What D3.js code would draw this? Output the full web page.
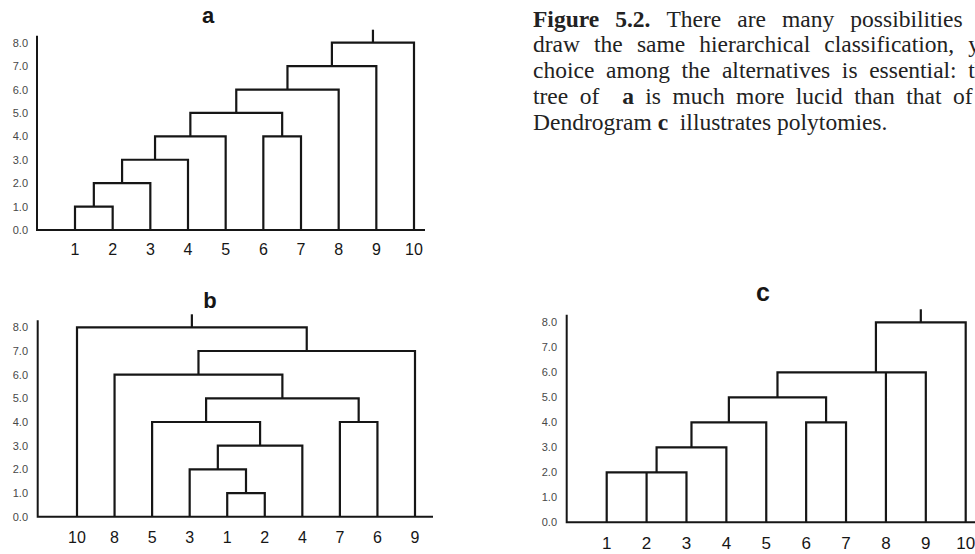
<!DOCTYPE html>
<html>
<head>
<meta charset="utf-8">
<script src="https://cdn.jsdelivr.net/npm/d3@7"></script>
<style>
  html, body { margin: 0; padding: 0; background: #fff; overflow: hidden; }
  svg { display: block; }
</style>
</head>
<body>
<div id="chart"></div>
<script>
(function () {
  // --- data ----------------------------------------------------------------
  const yTicks = [0, 1, 2, 3, 4, 5, 6, 7, 8];

  // leaf order along the x axis
  const leavesA = ["1", "2", "3", "4", "5", "6", "7", "8", "9", "10"];
  const leavesB = ["10", "8", "5", "3", "1", "2", "4", "7", "6", "9"];
  const leavesC = ["1", "2", "3", "4", "5", "6", "7", "8", "9", "10"];

  // merges: [node id, children, height]
  const mergesA = [
    ["A1", ["1", "2"], 1],
    ["A2", ["A1", "3"], 2],
    ["A3", ["A2", "4"], 3],
    ["A4", ["A3", "5"], 4],
    ["A5", ["6", "7"], 4],
    ["A6", ["A4", "A5"], 5],
    ["A7", ["A6", "8"], 6],
    ["A8", ["A7", "9"], 7],
    ["A9", ["A8", "10"], 8]
  ];
  const mergesB = [
    ["B1", ["1", "2"], 1],
    ["B2", ["3", "B1"], 2],
    ["B3", ["B2", "4"], 3],
    ["B4", ["5", "B3"], 4],
    ["B5", ["7", "6"], 4],
    ["B6", ["B4", "B5"], 5],
    ["B7", ["8", "B6"], 6],
    ["B8", ["B7", "9"], 7],
    ["B9", ["10", "B8"], 8]
  ];
  // polytomies in c
  const mergesC = [
    ["C1", ["1", "2", "3"], 2],
    ["C2", ["C1", "4"], 3],
    ["C3", ["C2", "5"], 4],
    ["C4", ["6", "7"], 4],
    ["C5", ["C3", "C4"], 5],
    ["C6", ["C5", "8", "9"], 6],
    ["C7", ["C6", "10"], 8]
  ];

  const captionLines = [
    [{ t: "Figure", b: true }, { t: "5.2.", b: true }, { t: "There" }, { t: "are" }, { t: "many" }, { t: "possibilities" }, { t: "to" }],
    [{ t: "draw" }, { t: "the" }, { t: "same" }, { t: "hierarchical" }, { t: "classification," }, { t: "yet" }],
    [{ t: "choice" }, { t: "among" }, { t: "the" }, { t: "alternatives" }, { t: "is" }, { t: "essential:" }, { t: "the" }],
    [{ t: "tree" }, { t: "of" }, { t: "a", b: true, gap: 2 }, { t: "is" }, { t: "much" }, { t: "more" }, { t: "lucid" }, { t: "than" }, { t: "that" }, { t: "of" }, { t: "b", b: true }],
    [{ t: "Dendrogram" }, { t: "c", b: true }, { t: "illustrates", gap: 2 }, { t: "polytomies." }]
  ];
  // -------------------------------------------------------------------------

  const W = 975, H = 554;
  const sans = "'Liberation Sans', Arial, Helvetica, sans-serif";
  const serif = "'Liberation Serif', 'Times New Roman', serif";
  const ink = "#161616";

  const svg = d3.select("#chart").append("svg")
    .attr("width", W)
    .attr("height", H);

  const panels = [
    { title: "a", leaves: leavesA, merges: mergesA, axisX: 37, xRange: [75, 414], yRange: [230, 42.7],
      baseEnd: 425, titleX: 208, titleY: 23, titleSize: 22, labelY: 255, labelSize: 16, yLabelX: 28 },
    { title: "b", leaves: leavesB, merges: mergesB, axisX: 37.7, xRange: [77, 415], yRange: [516.7, 327.3],
      baseEnd: 433, titleX: 210, titleY: 308, titleSize: 22, labelY: 543, labelSize: 16, yLabelX: 28 },
    { title: "c", leaves: leavesC, merges: mergesC, axisX: 566.7, xRange: [606.7, 965.7], yRange: [522.3, 322.3],
      baseEnd: 990, titleX: 763, titleY: 301, titleSize: 25, labelY: 549, labelSize: 17, yLabelX: 557 }
  ];

  panels.forEach(drawPanel);

  function drawPanel(cfg) {
    const x = d3.scalePoint().domain(cfg.leaves).range(cfg.xRange);
    const y = d3.scaleLinear().domain([0, 8]).range(cfg.yRange);
    const g = svg.append("g");

    // node positions: leaves from the point scale, joins in between children
    const pos = new Map();
    cfg.leaves.forEach(l => pos.set(l, { x: x(l), h: 0 }));
    cfg.merges.forEach(([id, kids, h]) => {
      const xs = kids.map(k => pos.get(k).x).sort((a, b) => a - b);
      let nx;
      if (xs.length === 2) {
        nx = (xs[0] + xs[1]) / 2;
      } else {
        // polytomy: stem sits just beside the middle branch
        const med = xs[Math.floor(xs.length / 2)];
        nx = med + (d3.mean(xs) < med - 0.5 ? -10 : 10);
      }
      pos.set(id, { x: nx, h: h });
    });

    // y axis labels
    g.append("g")
      .attr("transform", `translate(${cfg.yLabelX},0)`)
      .call(d3.axisLeft(y).tickValues(yTicks).tickSize(0).tickPadding(0).tickFormat(d3.format(".1f")))
      .call(s => s.select(".domain").remove())
      .selectAll("text")
        .attr("font-family", sans)
        .attr("font-size", 11)
        .attr("fill", "#484848");

    // x leaf labels
    g.append("g")
      .selectAll("text")
      .data(cfg.leaves)
      .join("text")
        .attr("x", d => x(d))
        .attr("y", cfg.labelY)
        .attr("text-anchor", "middle")
        .attr("font-family", sans)
        .attr("font-size", cfg.labelSize)
        .attr("fill", ink)
        .text(d => d);

    // axis frame
    g.append("path")
      .attr("d", `M${cfg.axisX},${y(8.3)}V${y(0)}H${cfg.baseEnd}`)
      .attr("fill", "none")
      .attr("stroke", ink)
      .attr("stroke-width", 2);

    // branches
    const branches = g.append("g")
      .attr("fill", "none")
      .attr("stroke", ink)
      .attr("stroke-width", 2.2)
      .attr("stroke-linejoin", "miter");

    branches.selectAll("path")
      .data(cfg.merges)
      .join("path")
        .attr("d", ([id, kids, h]) => {
          const ks = kids.map(k => pos.get(k)).sort((a, b) => a.x - b.x);
          const first = ks[0], last = ks[ks.length - 1];
          let d = `M${first.x},${y(first.h)}V${y(h)}H${last.x}V${y(last.h)}`;
          ks.slice(1, -1).forEach(k => { d += `M${k.x},${y(k.h)}V${y(h)}`; });
          return d;
        });

    // root stem
    const root = cfg.merges[cfg.merges.length - 1];
    const rp = pos.get(root[0]);
    branches.append("path")
      .attr("d", `M${rp.x},${y(rp.h)}V${y(rp.h) - 13}`);

    // panel letter
    g.append("text")
      .attr("x", cfg.titleX)
      .attr("y", cfg.titleY)
      .attr("text-anchor", "middle")
      .attr("font-family", sans)
      .attr("font-weight", "bold")
      .attr("font-size", cfg.titleSize)
      .attr("fill", ink)
      .text(cfg.title);
  }

  // --- caption, justified and running past the right edge ------------------
  const capX = 533, capRight = 997, capTop = 26.5, capStep = 25.9, capSize = 23.5;
  const cap = svg.append("g")
    .attr("font-family", serif)
    .attr("font-size", capSize)
    .attr("fill", "#222");

  const space = capSize * 0.25;
  captionLines.forEach((words, i) => {
    const line = cap.append("text").attr("y", capTop + i * capStep);
    const spans = words.map(w => line.append("tspan")
      .attr("font-weight", w.b ? "bold" : null)
      .text(w.t));
    const widths = spans.map(s => s.node().getComputedTextLength());
    const gaps = words.map((w, j) => j === 0 ? 0 : (w.gap || 1));
    const last = i === captionLines.length - 1;
    const natural = d3.sum(gaps) * space;
    const extra = last ? 0 : (capRight - capX - d3.sum(widths) - natural) / (d3.sum(gaps));
    let cx = capX;
    spans.forEach((s, j) => {
      if (j > 0) cx += gaps[j] * (space + extra);
      s.attr("x", cx);
      cx += widths[j];
    });
  });
})();
</script>
</body>
</html>
